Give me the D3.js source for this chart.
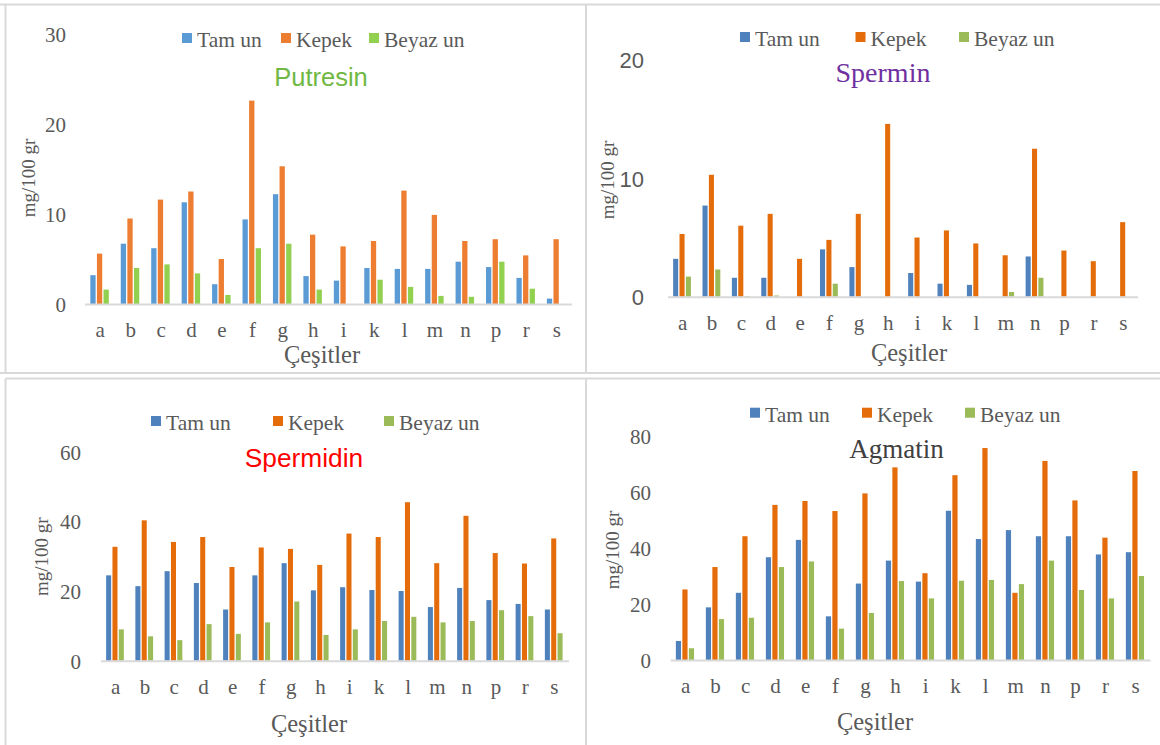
<!DOCTYPE html>
<meta charset="utf-8">
<style>
body { margin: 0; background: #fff; }
svg { display: block; }
.serif { font-family: "Liberation Serif", "Times New Roman", serif; }
.sans { font-family: "Liberation Sans", Arial, sans-serif; }
.frame line { stroke: #d9d9d9; stroke-width: 2px; }
.baseline { stroke: #d9d9d9; stroke-width: 2px; }
.tick text, .cat text { fill: #595959; }
</style>
<svg id="chart" width="1160" height="745"></svg>
<script src="https://d3js.org/d3.v7.min.js"></script>
<script>
// categories and series
var categories = ["a", "b", "c", "d", "e", "f", "g", "h", "i", "k", "l", "m", "n", "p", "r", "s"];
var seriesNames = ["Tam un", "Kepek", "Beyaz un"];

// Putresin (mg/100 gr)
var putresinTamUn   = [3.2, 6.7, 6.2, 11.3, 2.2, 9.4, 12.2, 3.1, 2.6, 4.0, 3.9, 3.9, 4.7, 4.1, 2.9, 0.6];
var putresinKepek   = [5.6, 9.5, 11.6, 12.5, 5.0, 22.6, 15.3, 7.7, 6.4, 7.0, 12.6, 9.9, 7.0, 7.2, 5.4, 7.2];
var putresinBeyazUn = [1.6, 4.0, 4.4, 3.4, 1.0, 6.2, 6.7, 1.6, 0, 2.7, 1.9, 0.9, 0.8, 4.7, 1.7, 0];
var putresinTicks = [0, 10, 20, 30];

// Spermin
var sperminTamUn   = [3.2, 7.7, 1.6, 1.6, 0, 4.0, 2.5, 0, 2.0, 1.1, 1.0, 0, 3.4, 0, 0, 0];
var sperminKepek   = [5.3, 10.3, 6.0, 7.0, 3.2, 4.8, 7.0, 14.6, 5.0, 5.6, 4.5, 3.5, 12.5, 3.9, 3.0, 6.3];
var sperminBeyazUn = [1.7, 2.3, 0.05, 0.1, 0, 1.1, 0, 0, 0, 0, 0, 0.4, 1.6, 0, 0, 0];
var sperminTicks = [0, 10, 20];

// Spermidin
var spermidinTamUn   = [24.5, 21.4, 25.7, 22.3, 14.7, 24.5, 28.0, 20.2, 21.1, 20.3, 20.0, 15.4, 20.9, 17.4, 16.3, 14.7];
var spermidinKepek   = [32.7, 40.3, 34.1, 35.5, 26.9, 32.5, 32.1, 27.5, 36.5, 35.5, 45.5, 28.0, 41.6, 30.9, 27.9, 35.1];
var spermidinBeyazUn = [9.0, 7.0, 5.9, 10.5, 7.7, 11.0, 17.0, 7.4, 9.0, 11.4, 12.6, 11.0, 11.4, 14.5, 12.8, 7.9];
var spermidinTicks = [0, 20, 40, 60];

// Agmatin
var agmatinTamUn   = [6.8, 18.8, 24.0, 36.7, 42.9, 15.6, 27.3, 35.5, 28.0, 53.3, 43.2, 46.4, 44.2, 44.2, 37.7, 38.5];
var agmatinKepek   = [25.2, 33.2, 44.2, 55.4, 56.8, 53.2, 59.5, 68.8, 31.0, 66.0, 75.7, 24.0, 71.1, 57.0, 43.7, 67.5];
var agmatinBeyazUn = [4.2, 14.6, 15.1, 33.2, 35.2, 11.2, 16.8, 28.2, 22.0, 28.3, 28.6, 27.1, 35.5, 25.0, 22.0, 30.0];
var agmatinTicks = [0, 20, 40, 60, 80];

var officeNew = ["#5b9bd5", "#ed7d31", "#92d050"];
var officeOld = ["#4f81bd", "#e46c0a", "#9bbb59"];

var panels = [
    { title: "Putresin", titleColor: "#70b843", titleFont: "sans", titleSize: 25.5, titleX: 321, titleY: 86,
      series: [putresinTamUn, putresinKepek, putresinBeyazUn], ticks: putresinTicks, colors: officeNew,
      tickFont: "serif", tickSize: 21, tickPad: 19,
      left: 85, right: 572, base: 304, top: 34,
      legendX: [182, 281, 369], legendY: 47,
      yTitleX: 28, yTitleY: 178, catY: 337, xTitleX: 322, xTitleY: 363 },
    { title: "Spermin", titleColor: "#7030a0", titleFont: "serif", titleSize: 28, titleX: 883, titleY: 82,
      series: [sperminTamUn, sperminKepek, sperminBeyazUn], ticks: sperminTicks, colors: officeOld,
      tickFont: "sans", tickSize: 22, tickPad: 24,
      left: 668, right: 1138, base: 296.7, top: 60,
      legendX: [740, 855.5, 959], legendY: 46,
      yTitleX: 607, yTitleY: 180, catY: 330, xTitleX: 909, xTitleY: 361 },
    { title: "Spermidin", titleColor: "#ff0000", titleFont: "sans", titleSize: 26.3, titleX: 304, titleY: 466.5,
      series: [spermidinTamUn, spermidinKepek, spermidinBeyazUn], ticks: spermidinTicks, colors: officeOld,
      tickFont: "serif", tickSize: 21, tickPad: 20,
      left: 101, right: 569, base: 660.7, top: 451.7,
      legendX: [151, 273, 384], legendY: 430,
      yTitleX: 41.5, yTitleY: 556.7, catY: 694, xTitleX: 309, xTitleY: 732 },
    { title: "Agmatin", titleColor: "#404040", titleFont: "serif", titleSize: 27, titleX: 896.5, titleY: 458.3,
      series: [agmatinTamUn, agmatinKepek, agmatinBeyazUn], ticks: agmatinTicks, colors: officeOld,
      tickFont: "serif", tickSize: 21, tickPad: 19.6,
      left: 670.6, right: 1150.6, base: 660, top: 436,
      legendX: [750, 862, 965], legendY: 421.7,
      yTitleX: 612, yTitleY: 550, catY: 693.3, xTitleX: 875, xTitleY: 730 }
];

var svg = d3.select("#chart");

// panel frames
var frame = svg.append("g").attr("class", "frame");
[[0, 4.5, 1160, 4.5], [5.5, 4.5, 5.5, 373], [0, 373, 1160, 373], [586, 4.5, 586, 373],
 [5.5, 378.5, 1160, 378.5], [5.5, 378.5, 5.5, 745], [586, 378.5, 586, 745]].forEach(function(l) {
    frame.append("line").attr("x1", l[0]).attr("y1", l[1]).attr("x2", l[2]).attr("y2", l[3]);
});

panels.forEach(function(p) {
    var g = svg.append("g");

    var x0 = d3.scaleBand()
        .domain(categories)
        .range([p.left, p.right])
        .paddingInner(0.35)
        .paddingOuter(0.175);
    var x1 = d3.scaleBand()
        .domain(seriesNames)
        .range([0, x0.bandwidth()]);
    var y = d3.scaleLinear()
        .domain([0, d3.max(p.ticks)])
        .range([p.base, p.top]);

    var rows = categories.map(function(c, i) {
        return { cat: c, values: p.series.map(function(s, j) { return { name: seriesNames[j], v: s[i], k: j }; }) };
    });

    var groups = g.append("g")
        .selectAll("g")
        .data(rows)
        .enter().append("g")
        .attr("transform", function(d) { return "translate(" + x0(d.cat) + ",0)"; });

    groups.selectAll("rect")
        .data(function(d) { return d.values; })
        .enter().append("rect")
        .attr("x", function(d) { return x1(d.name); })
        .attr("width", x1.bandwidth() - 1.3)
        .attr("y", function(d) { return y(d.v); })
        .attr("height", function(d) { return p.base - y(d.v); })
        .attr("fill", function(d) { return p.colors[d.k]; });

    g.append("line")
        .attr("class", "baseline")
        .attr("x1", p.left).attr("x2", p.right)
        .attr("y1", p.base + 0.5).attr("y2", p.base + 0.5);

    // y axis labels
    var yAxis = g.append("g")
        .attr("class", "tick-axis " + p.tickFont)
        .attr("transform", "translate(" + p.left + ",0)")
        .call(d3.axisLeft(y).tickValues(p.ticks).tickSize(0).tickPadding(p.tickPad));
    yAxis.select(".domain").remove();
    yAxis.selectAll("text")
        .attr("font-size", p.tickSize)
        .attr("font-family", null)
        .attr("fill", "#595959")
        .attr("dy", "0.35em");
    yAxis.attr("font-family", null).attr("font-size", null);

    // category labels
    var xAxis = g.append("g")
        .attr("class", "cat serif")
        .attr("transform", "translate(0," + p.base + ")")
        .call(d3.axisBottom(x0).tickSize(0));
    xAxis.select(".domain").remove();
    xAxis.attr("font-family", null).attr("font-size", null);
    xAxis.selectAll("text")
        .attr("y", p.catY - p.base)
        .attr("dy", 0)
        .attr("font-size", 21)
        .attr("fill", "#595959");

    // axis titles
    g.append("text")
        .attr("class", "serif")
        .attr("transform", "translate(" + p.yTitleX + "," + p.yTitleY + ") rotate(-90)")
        .attr("text-anchor", "middle")
        .attr("dominant-baseline", "central")
        .attr("font-size", 19)
        .attr("fill", "#595959")
        .text("mg/100 gr");

    g.append("text")
        .attr("class", "serif")
        .attr("x", p.xTitleX).attr("y", p.xTitleY)
        .attr("text-anchor", "middle")
        .attr("font-size", 24.5)
        .attr("fill", "#595959")
        .text("Çeşitler");

    // chart title
    g.append("text")
        .attr("class", p.titleFont)
        .attr("x", p.titleX).attr("y", p.titleY)
        .attr("text-anchor", "middle")
        .attr("font-size", p.titleSize)
        .attr("fill", p.titleColor)
        .text(p.title);

    // legend
    var legend = g.append("g")
        .selectAll("g")
        .data(seriesNames)
        .enter().append("g")
        .attr("transform", function(d, i) { return "translate(" + p.legendX[i] + "," + p.legendY + ")"; });
    legend.append("rect")
        .attr("x", 0).attr("y", -14)
        .attr("width", 10).attr("height", 10)
        .attr("fill", function(d, i) { return p.colors[i]; });
    legend.append("text")
        .attr("class", "serif")
        .attr("x", 15).attr("y", 0)
        .attr("font-size", 21.5)
        .attr("fill", "#595959")
        .text(function(d) { return d; });
});
</script>
